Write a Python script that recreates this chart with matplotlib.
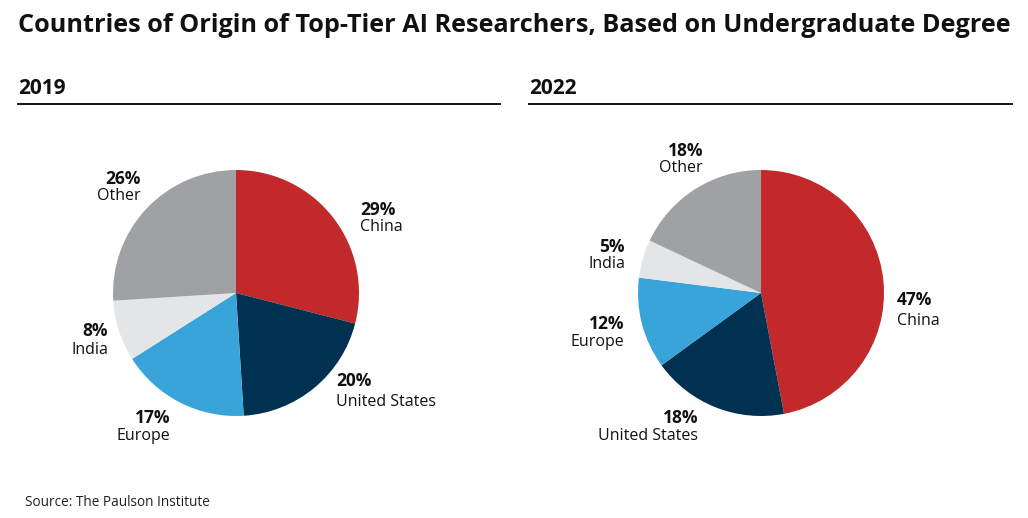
import matplotlib.pyplot as plt
from matplotlib.lines import Line2D

plt.rcParams['font.family'] = ['Open Sans', 'DejaVu Sans']

# data
regions = ["China", "United States", "Europe", "India", "Other"]
share_2019 = [29, 20, 17, 8, 26]
share_2022 = [47, 18, 12, 5, 18]
colors = ["#C1292B", "#003150", "#38A4DA", "#E4E5E7", "#A0A1A4"]

W, H = 1028, 518
R = 123  # pie radius in px

# label layout: (dx, dy of pct line, dy of name line, ha) in px from pie centre
lab_2019 = [(124, 83, 66, "left"), (100, -88, -109, "left"), (-66, -125, -143, "right"),
            (-128, -38, -57, "right"), (-95, 114, 97, "right")]
lab_2022 = [(136, -7, -28, "left"), (-63, -125, -143, "right"), (-137, -31, -49, "right"),
            (-136, 46, 29, "right"), (-58, 142, 125, "right")]


def fx(x):
    return x / W


def fy(y):
    return 1 - y / H


fig = plt.figure(figsize=(W / 100, H / 100), dpi=100)

fig.text(fx(18), fy(26), "Countries of Origin of Top-Tier AI Researchers, Based on Undergraduate Degree",
         fontsize=18.2, fontweight="bold", va="center", ha="left", color="#111111")


def panel(cx, cy, year, vals, labs, x0, x1):
    fig.text(fx(x0), fy(88), year, fontsize=15, fontweight="bold", va="center", ha="left", color="#111111")
    fig.add_artist(Line2D([fx(x0), fx(x1)], [fy(104), fy(104)], color="#111111", lw=1.4,
                          transform=fig.transFigure))
    hw, hh = 230, 180
    ax = fig.add_axes([fx(cx - hw), fy(cy + hh), (2 * hw) / W, (2 * hh) / H])
    ax.pie(vals, colors=colors, startangle=90, counterclock=False, radius=1,
           wedgeprops=dict(linewidth=0))
    ax.set_xlim(-hw / R, hw / R)
    ax.set_ylim(-hh / R, hh / R)
    ax.set_aspect("equal")
    ax.axis("off")
    for name, v, (dx, dy1, dy2, ha) in zip(regions, vals, labs):
        ax.text(dx / R, dy1 / R, f"{v}%", fontsize=12.5, fontweight="bold", ha=ha, va="center",
                color="#111111")
        ax.text(dx / R, dy2 / R, name, fontsize=11.5, ha=ha, va="center", color="#111111")


panel(236, 293, "2019", share_2019, lab_2019, 18, 500)
panel(761, 293, "2022", share_2022, lab_2022, 529, 1012)

fig.text(fx(25), fy(503), "Source: The Paulson Institute", fontsize=9.8, va="center", ha="left",
         color="#222222")

fig.savefig("out.png", dpi=100)
